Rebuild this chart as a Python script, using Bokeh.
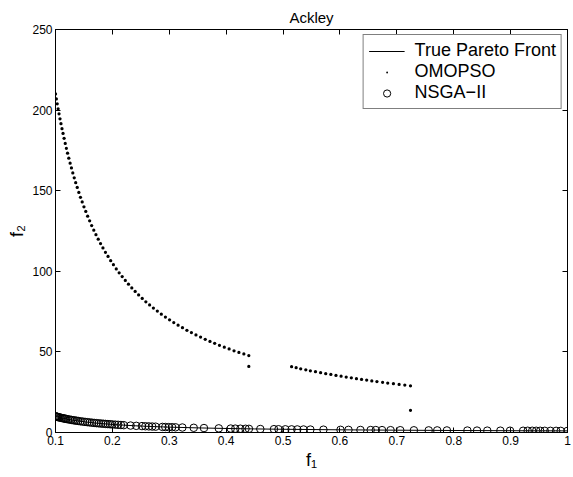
from bokeh.plotting import figure
from bokeh.models import Range1d, LinearAxis, FixedTicker
from bokeh.embed import file_html
from bokeh.resources import INLINE

FONT = "Liberation Sans"

# ---- data ----
front_f1 = [0.10, 0.11, 0.12, 0.13, 0.14, 0.15, 0.17, 0.19, 0.21, 0.24, 0.27,
            0.30, 0.35, 0.40, 0.45, 0.50, 0.60, 0.70, 0.80, 0.90, 1.00]
front_f2 = [10.0, 9.09, 8.33, 7.69, 7.14, 6.67, 5.88, 5.26, 4.76, 4.17, 3.70,
            3.33, 2.86, 2.50, 2.22, 2.00, 1.67, 1.43, 1.25, 1.11, 1.00]

omopso_f1 = [0.1000, 0.1015, 0.1030, 0.1046, 0.1062, 0.1079, 0.1096, 0.1114, 0.1132, 0.1151,
             0.1171, 0.1191, 0.1212, 0.1234, 0.1257, 0.1280, 0.1304, 0.1329, 0.1355, 0.1382,
             0.1410, 0.1439, 0.1469, 0.1500, 0.1532, 0.1565, 0.1600, 0.1636, 0.1673, 0.1711,
             0.1751, 0.1792, 0.1834, 0.1878, 0.1923, 0.1970, 0.2018, 0.2068, 0.2119, 0.2172,
             0.2227, 0.2283, 0.2341, 0.2400, 0.2461, 0.2524, 0.2588, 0.2654, 0.2721, 0.2790,
             0.2860, 0.2932, 0.3005, 0.3079, 0.3155, 0.3232, 0.3310, 0.3389, 0.3469, 0.3550,
             0.3632, 0.3715, 0.3798, 0.3882, 0.3967, 0.4052, 0.4138, 0.4224, 0.4311, 0.4398,
             0.4398,
             0.515, 0.523, 0.531, 0.540, 0.548, 0.557, 0.566, 0.575, 0.584, 0.593,
             0.602, 0.611, 0.620, 0.629, 0.638, 0.647, 0.656, 0.665, 0.675, 0.684,
             0.694, 0.704, 0.714, 0.724,
             0.724]
omopso_f2 = [210.0, 206.9, 203.9, 200.8, 197.7, 194.6, 191.6, 188.5, 185.5, 182.5,
             179.3, 176.3, 173.3, 170.2, 167.1, 164.1, 161.0, 158.0, 155.0, 152.0,
             148.9, 145.9, 143.0, 140.0, 137.1, 134.2, 131.3, 128.4, 125.5, 122.7,
             119.9, 117.2, 114.5, 111.8, 109.2, 106.6, 104.1, 101.5, 99.1, 96.7,
             94.3, 92.0, 89.7, 87.5, 85.3, 83.2, 81.1, 79.1, 77.2, 75.3,
             73.4, 71.6, 69.9, 68.2, 66.6, 65.0, 63.4, 62.0, 60.5, 59.2,
             57.8, 56.5, 55.3, 54.1, 52.9, 51.8, 50.7, 49.7, 48.7, 47.7,
             41.0,
             40.8, 40.2, 39.5, 38.9, 38.3, 37.7, 37.1, 36.5, 36.0, 35.4,
             34.9, 34.4, 33.9, 33.4, 32.9, 32.5, 32.0, 31.6, 31.1, 30.7,
             30.3, 29.8, 29.4, 29.0,
             13.8]

nsga_f1 = [0.100, 0.101, 0.102, 0.103, 0.104, 0.105, 0.107, 0.109, 0.111, 0.113,
           0.115, 0.117, 0.119, 0.122, 0.125, 0.128, 0.131, 0.134, 0.137, 0.140,
           0.144, 0.148, 0.152, 0.156, 0.160, 0.164, 0.168, 0.172, 0.176, 0.180,
           0.184, 0.188, 0.192, 0.196, 0.200, 0.205, 0.210, 0.215, 0.220,
           0.232, 0.242, 0.252, 0.258, 0.264, 0.270, 0.276, 0.288, 0.293, 0.299,
           0.305, 0.311, 0.323, 0.343, 0.361, 0.387, 0.408, 0.416, 0.425, 0.434,
           0.440, 0.460, 0.484, 0.492, 0.504, 0.515, 0.525, 0.536, 0.548, 0.571,
           0.601, 0.615, 0.636, 0.654, 0.663, 0.674, 0.689, 0.706, 0.730, 0.756,
           0.771, 0.788, 0.824, 0.841, 0.859, 0.882, 0.899, 0.922, 0.930, 0.938,
           0.945, 0.952, 0.960, 0.970, 0.980, 0.988, 1.000]
nsga_f2 = [10.00, 9.90, 9.80, 9.71, 9.62, 9.52, 9.35, 9.17, 9.01, 8.85,
           8.70, 8.55, 8.40, 8.20, 8.00, 7.81, 7.63, 7.46, 7.30, 7.14,
           6.94, 6.76, 6.58, 6.41, 6.25, 6.10, 5.95, 5.81, 5.68, 5.56,
           5.43, 5.32, 5.21, 5.10, 5.00, 4.88, 4.76, 4.65, 4.55,
           4.31, 4.13, 3.97, 3.88, 3.79, 3.70, 3.62, 3.47, 3.41, 3.34,
           3.28, 3.22, 3.10, 2.92, 2.77, 2.58, 2.45, 2.40, 2.35, 2.30,
           2.27, 2.17, 2.07, 2.03, 1.98, 1.94, 1.90, 1.87, 1.82, 1.75,
           1.66, 1.63, 1.57, 1.53, 1.51, 1.48, 1.45, 1.42, 1.37, 1.32,
           1.30, 1.27, 1.21, 1.19, 1.16, 1.13, 1.11, 1.08, 1.08, 1.07,
           1.06, 1.05, 1.04, 1.03, 1.02, 1.01, 1.00]

x_ticks = [0.1, 0.2, 0.3, 0.4, 0.5, 0.6, 0.7, 0.8, 0.9, 1.0]
x_tick_labels = ["0.1", "0.2", "0.3", "0.4", "0.5", "0.6", "0.7", "0.8", "0.9", "1"]
y_ticks = [0, 50, 100, 150, 200, 250]
y_tick_labels = ["0", "50", "100", "150", "200", "250"]

title_text = "Ackley"
x_label = "f\u2081"
y_label = "f\u2082"

# ---- figure ----
p = figure(width=573, height=477, output_backend="svg", toolbar_location=None,
           x_range=Range1d(0.1, 1.0), y_range=Range1d(0, 250),
           min_border_left=55, min_border_right=6, min_border_top=29, min_border_bottom=45)
p.grid.visible = False
p.outline_line_color = "black"
p.background_fill_color = "white"
p.border_fill_color = "white"

p.title.text = title_text
p.title.align = "center"
p.title.offset = -5
p.title.text_font = FONT
p.title.text_font_size = "15px"
p.title.text_font_style = "normal"
p.title.text_color = "black"
p.title.standoff = 7

def style_axis(ax, ticks, labels, show_labels=True):
    ax.ticker = FixedTicker(ticks=ticks)
    ax.major_tick_in = 5
    ax.major_tick_out = 0
    ax.minor_tick_line_color = None
    ax.axis_line_color = "black"
    ax.major_tick_line_color = "black"
    ax.major_label_text_font = FONT
    if show_labels:
        ax.major_label_overrides = {t: l for t, l in zip(ticks, labels)}
        ax.major_label_standoff = 3
        ax.major_label_text_font_size = "12px"
        ax.major_label_text_color = "black"
        ax.axis_label_text_font = FONT
        ax.axis_label_text_font_size = "18px"
        ax.axis_label_text_font_style = "normal"
        ax.axis_label_text_color = "black"
        ax.axis_label_standoff = 2
    else:
        ax.major_label_text_color = None
        ax.major_label_standoff = 0

style_axis(p.xaxis[0], x_ticks, x_tick_labels)
style_axis(p.yaxis[0], y_ticks, y_tick_labels)
p.xaxis[0].axis_label = x_label
p.yaxis[0].axis_label = y_label

top_ax = LinearAxis()
style_axis(top_ax, x_ticks, x_tick_labels, show_labels=False)
p.add_layout(top_ax, "above")
right_ax = LinearAxis()
style_axis(right_ax, y_ticks, y_tick_labels, show_labels=False)
p.add_layout(right_ax, "right")

# ---- series ----
p.line(front_f1, front_f2, line_color="black", line_width=1, legend_label="True Pareto Front")
p.scatter(omopso_f1, omopso_f2, marker="dot", size=13, line_color="black",
          legend_label="OMOPSO")
p.scatter(nsga_f1, nsga_f2, marker="circle", size=7.5, fill_color=None,
          line_color="black", line_width=1, legend_label="NSGA\u2212II")

lg = p.legend[0]
lg.location = "top_right"
lg.margin = 5
lg.padding = 5
lg.spacing = 0
lg.label_height = 18
lg.glyph_height = 18
lg.glyph_width = 36
lg.label_standoff = 10
lg.label_text_font = FONT
lg.label_text_font_size = "18px"
lg.label_text_color = "black"
lg.border_line_color = "black"
lg.border_line_width = 1
lg.background_fill_alpha = 1.0

open("out.html", "w").write(file_html(p, INLINE))
